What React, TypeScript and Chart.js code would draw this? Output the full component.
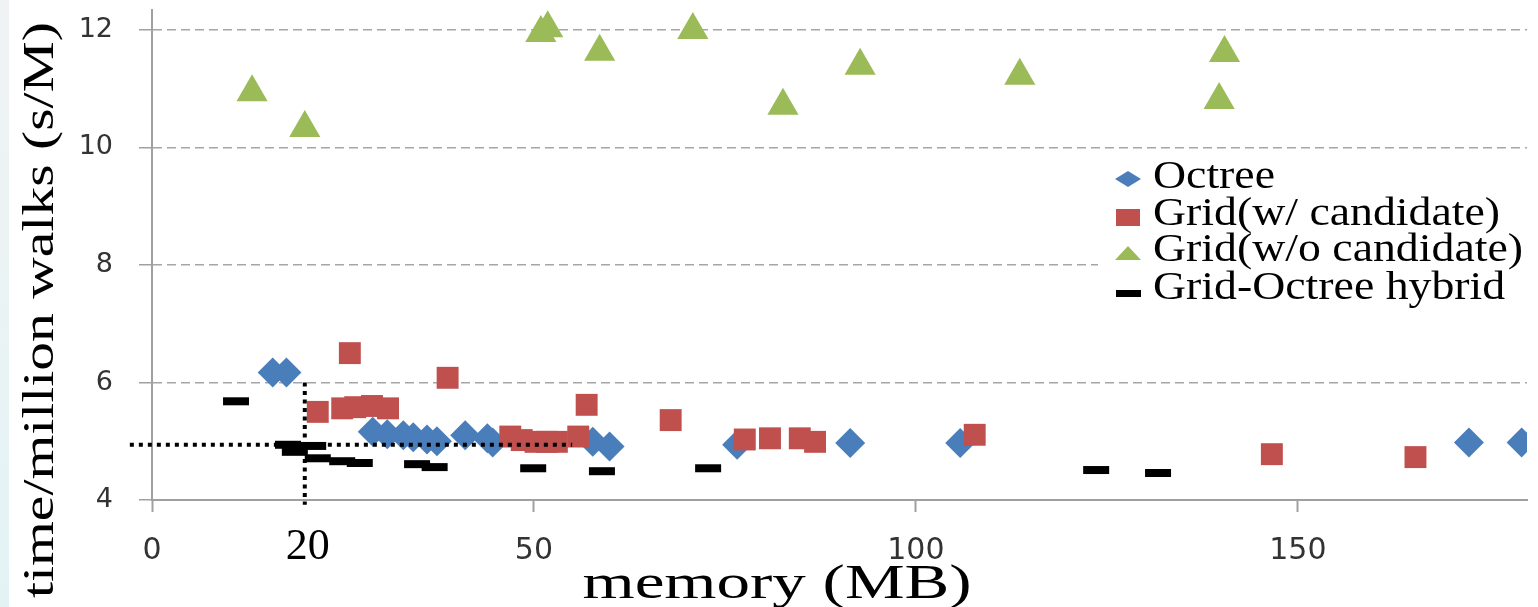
import React, { useEffect, useRef } from 'react';
import { Chart, registerables } from 'chart.js';

Chart.register(...registerables);

// ---- data ----
const octreeX = [15.8, 17.6, 28.9, 30.8, 32.9, 34.2, 36.0, 37.3, 41.0, 43.9, 44.6, 57.7, 59.9, 76.6, 91.4, 105.8, 172.4, 179.3];
const octreeY = [6.17, 6.17, 5.16, 5.12, 5.1, 5.07, 5.03, 5.0, 5.1, 5.05, 4.98, 4.99, 4.91, 4.94, 4.97, 4.97, 4.98, 4.98];

const gridCandX = [21.7, 24.9, 26.6, 28.8, 30.9, 25.9, 38.7, 46.9, 48.4, 50.2, 51.7, 53.0, 55.8, 56.9, 67.9, 77.6, 80.9, 84.8, 86.8, 107.7, 146.6, 165.4];
const gridCandY = [5.5, 5.56, 5.58, 5.6, 5.56, 6.5, 6.08, 5.08, 5.02, 4.99, 4.99, 4.99, 5.08, 5.62, 5.36, 5.03, 5.05, 5.05, 4.99, 5.11, 4.78, 4.73];

const gridNoCandX = [13.1, 20.0, 51.8, 50.9, 58.6, 70.8, 82.6, 92.7, 113.6, 140.4, 139.7];
const gridNoCandY = [10.94, 10.33, 12.03, 11.95, 11.63, 12.0, 10.71, 11.39, 11.22, 11.61, 10.81];

const hybridX = [11.0, 17.8, 21.1, 18.7, 21.7, 24.9, 27.2, 34.7, 37.0, 49.9, 58.9, 72.8, 123.6, 131.7];
const hybridY = [5.68, 4.94, 4.92, 4.82, 4.71, 4.66, 4.63, 4.61, 4.56, 4.54, 4.49, 4.54, 4.51, 4.46];

const seriesLabels = ['Octree', 'Grid(w/ candidate)', 'Grid(w/o candidate)', 'Grid-Octree hybrid'];
const seriesColors = ['#4a7ebb', '#c0504d', '#9bbb59', '#000000'];

const xTicks = [0, 50, 100, 150];
const yTicks = [4, 6, 8, 10, 12];
const xRange = [0, 180];
const yRange = [4, 12.34];

// reference (dotted) lines
const refVLineX = [20, 20];
const refVLineY = [6.0, 3.92];
const refHLineX = [-2.9, 55];
const refHLineY = [4.94, 4.94];
const refLabel = '20';

const xTitle = 'memory (MB)';
const yTitle = 'time/million walks (s/M)';

const pts = (xs: number[], ys: number[]) => xs.map((x, i) => ({ x, y: ys[i] }));

const SERIF = '"Liberation Serif", "Times New Roman", serif';

function stretchedText(ctx: CanvasRenderingContext2D, text: string, font: string, scale: number) {
  ctx.font = font;
  ctx.save();
  ctx.scale(scale, 1);
  ctx.fillText(text, 0, 0);
  ctx.restore();
}

const decorPlugin = {
  id: 'decor',
  beforeDraw(chart: any) {
    const ctx: CanvasRenderingContext2D = chart.ctx;
    ctx.save();
    ctx.fillStyle = '#ffffff';
    ctx.fillRect(0, 0, chart.width, chart.height);
    const g = ctx.createLinearGradient(0, 0, 0, chart.height);
    g.addColorStop(0, '#f1f3f3');
    g.addColorStop(1, '#e3f3f5');
    ctx.fillStyle = g;
    ctx.fillRect(0, 0, 9, chart.height);
    ctx.restore();
  },
  afterDraw(chart: any) {
    const ctx: CanvasRenderingContext2D = chart.ctx;
    const xs = chart.scales.x;
    ctx.save();
    ctx.fillStyle = '#000';
    ctx.textBaseline = 'alphabetic';

    // "20" annotation label
    ctx.font = `44px ${SERIF}`;
    ctx.textAlign = 'center';
    ctx.fillText(refLabel, xs.getPixelForValue(refVLineX[0]) + 3, 559);

    // x title
    ctx.font = `48px ${SERIF}`;
    const xw = ctx.measureText(xTitle).width;
    ctx.save();
    ctx.translate(777, 598);
    ctx.textAlign = 'center';
    stretchedText(ctx, xTitle, `48px ${SERIF}`, 389 / xw);
    ctx.restore();

    // y title
    ctx.font = `44px ${SERIF}`;
    const yw = ctx.measureText(yTitle).width;
    ctx.save();
    ctx.translate(53, 310);
    ctx.rotate(-Math.PI / 2);
    ctx.textAlign = 'center';
    stretchedText(ctx, yTitle, `44px ${SERIF}`, 576 / yw);
    ctx.restore();

    // legend
    ctx.fillStyle = '#ffffff';
    ctx.fillRect(1098, 153, 432, 166);
    ctx.font = `40px ${SERIF}`;
    const lw = ctx.measureText(seriesLabels[2]).width;
    const ls = 370 / lw;
    const baselines = [188, 225, 261, 299];
    const markerY = [179, 217, 254, 293];
    const mx = 1128;
    ctx.textAlign = 'left';
    seriesLabels.forEach((lab, i) => {
      ctx.save();
      ctx.fillStyle = '#000';
      ctx.translate(1153, baselines[i]);
      stretchedText(ctx, lab, `40px ${SERIF}`, ls);
      ctx.restore();
      const my = markerY[i];
      ctx.fillStyle = seriesColors[i];
      ctx.beginPath();
      if (i === 0) {
        ctx.moveTo(mx - 13, my);
        ctx.lineTo(mx, my - 8);
        ctx.lineTo(mx + 13, my);
        ctx.lineTo(mx, my + 8);
        ctx.closePath();
        ctx.fill();
      } else if (i === 1) {
        ctx.fillRect(mx - 12, my - 8, 24, 17);
      } else if (i === 2) {
        ctx.moveTo(mx, my - 8);
        ctx.lineTo(mx + 13, my + 6);
        ctx.lineTo(mx - 13, my + 6);
        ctx.closePath();
        ctx.fill();
      } else {
        ctx.fillRect(mx - 12, my - 3, 25, 7);
      }
    });
    ctx.restore();
  },
};

export default function App() {
  const ref = useRef<HTMLCanvasElement | null>(null);

  useEffect(() => {
    if (!ref.current) return;
    const chart = new Chart(ref.current, {
      type: 'scatter',
      data: {
        datasets: [
          {
            label: 'refH',
            data: pts(refHLineX, refHLineY),
            showLine: true,
            pointRadius: 0,
            borderColor: '#000',
            borderWidth: 4,
            borderDash: [4, 5],
            clip: false,
            order: 0,
          } as any,
          {
            label: 'refV',
            data: pts(refVLineX, refVLineY),
            showLine: true,
            pointRadius: 0,
            borderColor: '#000',
            borderWidth: 4,
            borderDash: [4, 4.5],
            clip: false,
            order: 0,
          } as any,
          {
            label: seriesLabels[3],
            data: pts(hybridX, hybridY),
            pointStyle: 'line',
            pointRadius: 13,
            pointBorderWidth: 8,
            pointBorderColor: seriesColors[3],
            pointBackgroundColor: seriesColors[3],
            order: 1,
          },
          {
            label: seriesLabels[2],
            data: pts(gridNoCandX, gridNoCandY),
            pointStyle: 'triangle',
            pointRadius: 18,
            pointBorderWidth: 0,
            pointBackgroundColor: seriesColors[2],
            order: 2,
          },
          {
            label: seriesLabels[1],
            data: pts(gridCandX, gridCandY),
            pointStyle: 'rect',
            pointRadius: 15.5,
            pointBorderWidth: 0,
            pointBackgroundColor: seriesColors[1],
            order: 3,
          },
          {
            label: seriesLabels[0],
            data: pts(octreeX, octreeY),
            pointStyle: 'rectRot',
            pointRadius: 15,
            pointBorderWidth: 0,
            pointBackgroundColor: seriesColors[0],
            order: 4,
          },
        ],
      },
      options: {
        responsive: false,
        animation: false,
        events: [],
        layout: { autoPadding: false, padding: { left: 0, right: 11, top: 10, bottom: 0 } },
        plugins: {
          legend: { display: false },
          tooltip: { enabled: false },
        },
        scales: {
          x: {
            type: 'linear',
            min: xRange[0],
            max: xRange[1],
            bounds: 'data',
            afterFit: (s: any) => {
              s.height = 107;
              s.paddingLeft = 0;
              s.paddingRight = 0;
            },
            afterBuildTicks: (s: any) => { s.ticks = xTicks.map((v) => ({ value: v })); },
            grid: {
              drawOnChartArea: false,
              drawTicks: true,
              tickLength: 12,
              tickColor: '#a0a0a0',
              tickWidth: 2,
              color: '#a0a0a0',
            },
            border: { display: true, color: '#a0a0a0', width: 2 },
            ticks: {
              includeBounds: false,
              padding: 21,
              color: '#333333',
              font: { family: '"DejaVu Sans", sans-serif', size: 30 },
              maxRotation: 0,
            },
          },
          y: {
            type: 'linear',
            min: yRange[0],
            max: yRange[1],
            bounds: 'data',
            afterFit: (s: any) => {
              s.width = 152;
              s.paddingTop = 0;
              s.paddingBottom = 0;
            },
            afterBuildTicks: (s: any) => { s.ticks = yTicks.map((v) => ({ value: v })); },
            grid: {
              color: '#a6a6a6',
              lineWidth: 1.5,
              drawTicks: true,
              tickLength: 13,
              tickColor: '#a0a0a0',
              tickWidth: 1.5,
            },
            border: { display: true, color: '#a0a0a0', width: 2, dash: [9, 5] },
            ticks: {
              includeBounds: false,
              padding: 26,
              color: '#333333',
              font: { family: '"DejaVu Sans", sans-serif', size: 27 },
            },
          },
        },
      },
      plugins: [decorPlugin],
    } as any);
    return () => chart.destroy();
  }, []);

  return (
    <div style={{ position: 'absolute', left: 0, top: 0, width: 1538, height: 607 }}>
      <canvas ref={ref} width={1538} height={607} style={{ display: 'block' }} />
    </div>
  );
}
